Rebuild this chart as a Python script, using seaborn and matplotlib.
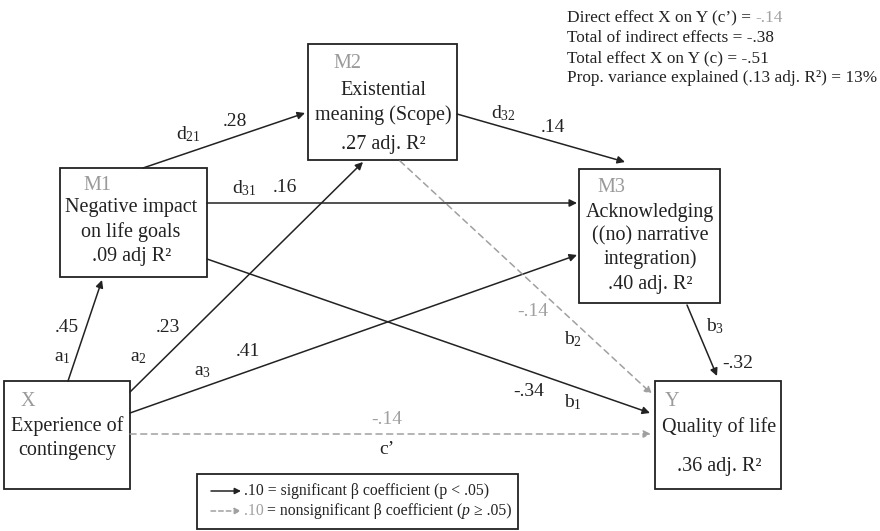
import matplotlib
matplotlib.use("Agg")
import matplotlib.pyplot as plt
import seaborn as sns
from matplotlib.patches import Rectangle

sns.set_style("white")
plt.rcParams['font.family'] = ['Liberation Serif', 'DejaVu Serif']
plt.rcParams['mathtext.fontset'] = 'custom'
plt.rcParams['mathtext.rm'] = 'Liberation Serif'
plt.rcParams['mathtext.it'] = 'Liberation Serif:italic'

# path coefficients
a_coef = [.45, .23, .41]          # X -> M1, M2, M3
a_sig = [True, True, True]
d_coef = [.28, .16, .14]          # d21, d31, d32
d_sig = [True, True, True]
b_coef = [-.34, -.14, -.32]       # M1, M2, M3 -> Y
b_sig = [True, False, True]
c_prime = -.14
c_prime_sig = False

# node names / labels
node_tags = ['X', 'M1', 'M2', 'M3', 'Y']
node_text = ['Experience of\ncontingency', 'Negative impact\non life goals',
             'Existential\nmeaning (Scope)', 'Acknowledging\n((no) narrative\nintegration)',
             'Quality of life']
node_r2 = [None, '.09 adj R²', '.27 adj. R²', '.40 adj. R²', '.36 adj. R²']

# summary
direct_effect = -.14
indirect_total = -.38
total_effect = -.51
adj_r2_total = .13

BLACK = '#222222'
GRAY = '#a0a0a0'
TAG = '#9a9a9a'


def fmt(v):
    return f'{v:.2f}'.replace('0.', '.')


fig, ax = plt.subplots(figsize=(8.8, 5.31), dpi=100)
fig.subplots_adjust(0, 0, 1, 1)
ax.set_xlim(0, 880)
ax.set_ylim(531, 0)
ax.axis('off')

# layout: (x0, y0, x1, y1) in pixels
boxes = {
    'X': (4, 381, 130, 489),
    'M1': (60, 168, 207, 277),
    'M2': (308, 44, 457, 160),
    'M3': (579, 169, 720, 303),
    'Y': (655, 381, 781, 489),
}
for key, (x0, y0, x1, y1) in boxes.items():
    ax.add_patch(Rectangle((x0, y0), x1 - x0, y1 - y0, fill=False,
                           edgecolor=BLACK, linewidth=1.3))

FS = 14.5
# tags
tag_pos = {'X': (28, 402), 'M1': (97, 186), 'M2': (347, 64), 'M3': (611, 187), 'Y': (672, 402)}
for t, (x, y) in tag_pos.items():
    ax.text(x, y, t, color=TAG, fontsize=FS, ha='center', va='center')

text_pos = {'X': (67, 438), 'M1': (131, 220), 'M2': (383, 103), 'M3': (650, 236), 'Y': (719, 427)}
r2_pos = {'M1': (132, 257), 'M2': (383, 145), 'M3': (650, 285), 'Y': (719, 467)}
for i, t in enumerate(node_tags):
    x, y = text_pos[t]
    ax.text(x, y, node_text[i], fontsize=FS, ha='center', va='center',
            color=BLACK, linespacing=1.3)
    if node_r2[i]:
        x, y = r2_pos[t]
        ax.text(x, y, node_r2[i], fontsize=FS, ha='center', va='center', color=BLACK)


def arrow(p0, p1, sig):
    col = BLACK if sig else GRAY
    ls = '-' if sig else (0, (4, 3))
    ax.annotate('', xy=p1, xytext=p0,
                arrowprops=dict(arrowstyle='-|>', color=col, lw=1.1, linestyle=ls,
                                shrinkA=0, shrinkB=0, mutation_scale=11))


# edges (start, end)
arrow((68, 381), (102, 280), a_sig[0])
arrow((130, 392), (363, 162), a_sig[1])
arrow((130, 413), (577, 255), a_sig[2])
arrow((143, 168), (305, 113), d_sig[0])
arrow((207, 203), (577, 203), d_sig[1])
arrow((457, 114), (625, 162), d_sig[2])
arrow((207, 259), (650, 413), b_sig[0])
arrow((400, 161), (652, 394), b_sig[1])
arrow((687, 305), (717, 376), b_sig[2])
arrow((130, 434), (651, 434), c_prime_sig)

LFS = 14


def lab(x, y, s, sig=True):
    ax.text(x, y, s, fontsize=LFS, ha='center', va='center', color=BLACK if sig else GRAY)


lab(67, 327, fmt(a_coef[0]), a_sig[0])
lab(62, 357, r'a$_1$')
lab(168, 327, fmt(a_coef[1]), a_sig[1])
lab(138, 357, r'a$_2$')
lab(248, 352, fmt(a_coef[2]), a_sig[2])
lab(203, 372, r'a$_3$')
lab(188, 134, r'd$_{21}$')
lab(235, 121, fmt(d_coef[0]), d_sig[0])
lab(244, 188, r'd$_{31}$')
lab(285, 187, fmt(d_coef[1]), d_sig[1])
lab(503, 113, r'd$_{32}$')
lab(553, 128, fmt(d_coef[2]), d_sig[2])
lab(533, 312, fmt(b_coef[1]), b_sig[1])
lab(573, 339, r'b$_2$')
lab(529, 391, fmt(b_coef[0]), b_sig[0])
lab(573, 402, r'b$_1$')
lab(715, 326, r'b$_3$')
lab(738, 363, fmt(b_coef[2]), b_sig[2])
lab(387, 420, fmt(c_prime), c_prime_sig)
lab(387, 450, 'c’')

# summary block
SFS = 12.4
sx = 567
lines = [
    ("Direct effect X on Y (c’) = ", fmt(direct_effect)),
    (f"Total of indirect effects = {fmt(indirect_total)}", None),
    (f"Total effect X on Y (c) = {fmt(total_effect)}", None),
    (f"Prop. variance explained ({fmt(adj_r2_total)} adj. R²) = {round(adj_r2_total * 100)}%", None),
]
for k, (s, extra) in enumerate(lines):
    y = 18 + k * 20
    t = ax.text(sx, y, s, fontsize=SFS, ha='left', va='center', color=BLACK)
    if extra:
        ax.annotate(extra, xycoords=t, xy=(1, 0.5), va='center', ha='left',
                    fontsize=SFS, color=GRAY)

# legend box
GFS = 11.3
ax.add_patch(Rectangle((197, 474), 321, 55, fill=False, edgecolor=BLACK, linewidth=1.3))
ax.annotate('', xy=(241, 491), xytext=(211, 491),
            arrowprops=dict(arrowstyle='-|>', color=BLACK, lw=1.1, shrinkA=0, shrinkB=0,
                            mutation_scale=9))
ax.annotate('', xy=(241, 511), xytext=(211, 511),
            arrowprops=dict(arrowstyle='-|>', color=GRAY, lw=1.1, linestyle=(0, (3, 2)),
                            shrinkA=0, shrinkB=0, mutation_scale=9))
ax.text(244, 491, '.10 = significant β coefficient (p < .05)', fontsize=GFS,
        ha='left', va='center', color=BLACK)
t1 = ax.text(244, 511, '.10', fontsize=GFS, ha='left', va='center', color=GRAY)
t2 = ax.annotate('= nonsignificant β coefficient (', xycoords=t1, xy=(1, 0.5),
                 xytext=(2, 0), textcoords='offset points',
                 fontsize=GFS, ha='left', va='center', color=BLACK)
t3 = ax.annotate('p', xycoords=t2, xy=(1, 0.5), fontsize=GFS, style='italic',
                 ha='left', va='center', color=BLACK)
ax.annotate(' ≥ .05)', xycoords=t3, xy=(1, 0.5), fontsize=GFS,
            ha='left', va='center', color=BLACK)

fig.savefig('out.png', dpi=100)
